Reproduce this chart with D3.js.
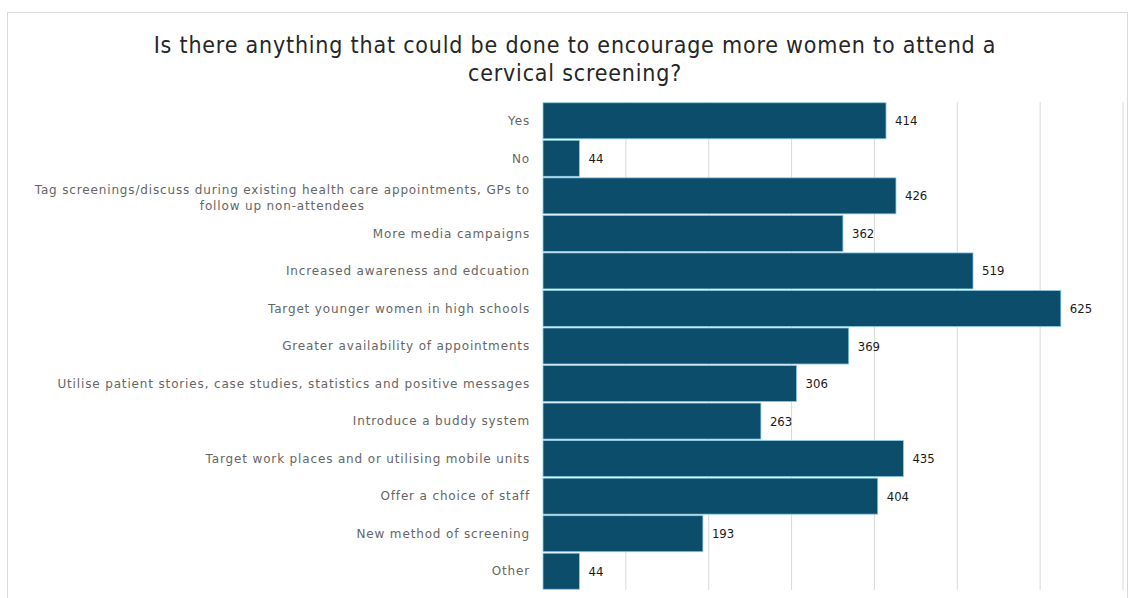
<!DOCTYPE html>
<html><head><meta charset="utf-8">
<script src="https://cdn.jsdelivr.net/npm/d3@7"></script>
<style>body{margin:0;background:#fff;}svg{display:block;}</style>
</head><body>
<svg id="chart" width="1131" height="598"></svg>
<script>
const categories = [
  "Yes",
  "No",
  "Tag screenings/discuss during existing health care appointments, GPs to|follow up non-attendees",
  "More media campaigns",
  "Increased awareness and edcuation",
  "Target younger women in high schools",
  "Greater availability of appointments",
  "Utilise patient stories, case studies, statistics and positive messages",
  "Introduce a buddy system",
  "Target work places and or utilising mobile units",
  "Offer a choice of staff",
  "New method of screening",
  "Other"
];
const values = [414, 44, 426, 362, 519, 625, 369, 306, 263, 435, 404, 193, 44];
const gridTicks = [0, 100, 200, 300, 400, 500, 600, 700];
const titleLines = ["Is there anything that could be done to encourage more women to attend a", "cervical screening?"];

const svg = d3.select("#chart");
svg.append("rect").attr("x", 7.5).attr("y", 12.5).attr("width", 1120).attr("height", 590)
  .attr("fill", "#fff").attr("stroke", "#d9d9d9");

const x = d3.scaleLinear().domain([0, 700]).range([543, 1123]);
const y = d3.scaleBand().domain(categories).range([102, 590]).paddingInner(0.04).paddingOuter(0.02);

// gridlines
svg.append("g").selectAll("line").data(gridTicks.slice(1)).join("line")
  .attr("x1", d => x(d)).attr("x2", d => x(d))
  .attr("y1", 102).attr("y2", 590)
  .attr("stroke", "#d9d9d9").attr("stroke-width", 1);

// bars
svg.append("g").selectAll("rect").data(categories).join("rect")
  .attr("x", x(0)).attr("y", d => y(d))
  .attr("width", (d, i) => x(values[i]) - x(0))
  .attr("height", y.bandwidth())
  .attr("fill", "#0b4d6b")
  .attr("stroke", "#8ccbe6").attr("stroke-width", 0.8);

// value labels
svg.append("g").selectAll("text").data(categories).join("text")
  .attr("x", (d, i) => x(values[i]) + 9)
  .attr("y", d => y(d) + y.bandwidth() / 2)
  .attr("dy", "0.35em")
  .attr("font-family", "DejaVu Sans Condensed, DejaVu Sans, sans-serif")
  .attr("font-size", 13).attr("fill", "#1a1a1a")
  .text((d, i) => values[i]);

// category labels
const lab = svg.append("g").attr("font-family", "DejaVu Sans, sans-serif")
  .attr("font-size", 12).attr("letter-spacing", "0.85px").attr("fill", "#666666");
categories.forEach(c => {
  const parts = c.split("|");
  const cy = y(c) + y.bandwidth() / 2;
  if (parts.length === 1) {
    lab.append("text").attr("x", 530).attr("y", cy).attr("dy", "0.35em").attr("text-anchor", "end").text(c);
  } else {
    const t1 = lab.append("text").attr("x", 530).attr("y", cy - 6).attr("dy", "0.35em").attr("text-anchor", "end").text(parts[0]);
    const w = t1.node().getComputedTextLength();
    lab.append("text").attr("x", 530 - w / 2).attr("y", cy + 10).attr("dy", "0.35em").attr("text-anchor", "middle").text(parts[1]);
  }
});

// title
svg.append("g").selectAll("text").data(titleLines).join("text")
  .attr("x", 575).attr("y", (d, i) => 53 + i * 28)
  .attr("text-anchor", "middle")
  .attr("font-family", "DejaVu Sans Condensed, DejaVu Sans, sans-serif")
  .attr("font-size", 23).attr("letter-spacing", "0.8px").attr("fill", "#262626")
  .text(d => d);
</script>
</body></html>
